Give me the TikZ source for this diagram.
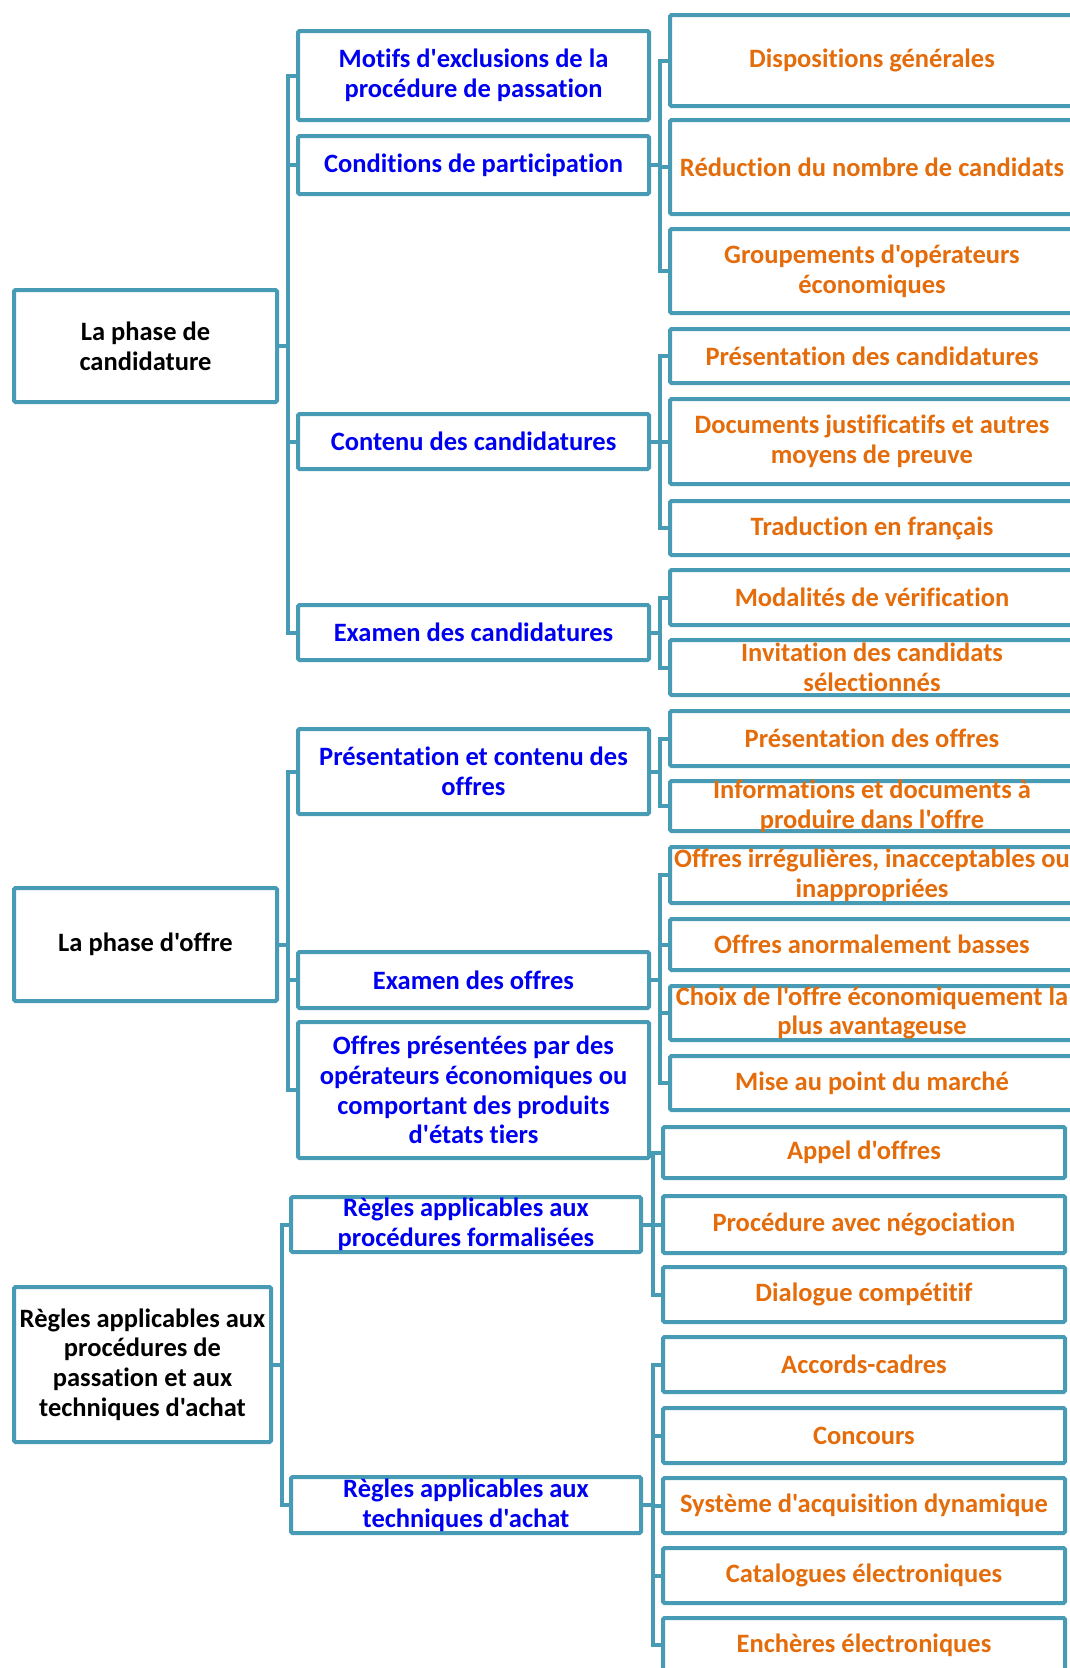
\documentclass[tikz,border=0pt]{standalone}
\usepackage{fontspec}
\setmainfont{Carlito}[Ligatures={TeXOff,NoCommon}]
\definecolor{teal}{RGB}{72,155,180}
\definecolor{tblue}{RGB}{0,0,240}
\definecolor{torange}{RGB}{228,108,10}
\tikzset{
  box/.style={draw=teal, line width=4pt, fill=white, rounded corners=1.5pt, inner sep=0pt},
  conn/.style={draw=teal, line width=4pt, line join=miter},
  lblA/.style={align=center, text=black, inner sep=0pt, font=\fontsize{26.5}{29.6}\selectfont\bfseries},
  lblB/.style={align=center, text=tblue, inner sep=0pt, font=\fontsize{26.5}{29.6}\selectfont\bfseries},
  lblC/.style={align=center, text=torange, inner sep=0pt, font=\fontsize{26.5}{29.6}\selectfont\bfseries}
}
\newcommand{\bx}[7]{%
  \node[box, minimum width={#3-#1}, minimum height={#4-#2}] (#5) at ({(#1+#3)/2},{(#2+#4)/2}) {};
  \node[#6] at (#5.center) {#7};}
\begin{document}
\begin{tikzpicture}[x=1pt,y=-1pt]
\clip (0,0) rectangle (1070,1668);
\fill[white] (0,0) rectangle (1070,1668);
% ---- level 1
\bx{14}{290}{277}{402}{A1}{lblA}{La phase de\\candidature}
\bx{14}{888}{277}{1001}{A2}{lblA}{La phase d'offre}
\bx{14}{1287}{271}{1442}{A3}{lblA}{Règles applicables aux\\procédures de\\passation et aux\\techniques d'achat}
% ---- level 2
\bx{298}{31}{649}{120}{B1}{lblB}{Motifs d'exclusions de la\\procédure de passation}
\bx{298}{136}{649}{194}{B2}{lblB}{Conditions de participation}
\bx{298}{414}{649}{469}{B3}{lblB}{Contenu des candidatures}
\bx{298}{605}{649}{660}{B4}{lblB}{Examen des candidatures}
\bx{298}{729}{649}{814}{B5}{lblB}{Présentation et contenu des\\offres}
\bx{298}{952}{649}{1008}{B6}{lblB}{Examen des offres}
\bx{298}{1022}{649}{1158}{B7}{lblB}{Offres présentées par des\\opérateurs économiques ou\\comportant des produits\\d'états tiers}
\bx{291}{1197}{641}{1252}{B8}{lblB}{Règles applicables aux\\procédures formalisées}
\bx{291}{1477}{641}{1533}{B9}{lblB}{Règles applicables aux\\techniques d'achat}
% ---- level 3
\bx{670}{15}{1074}{106}{C1}{lblC}{Dispositions générales}
\bx{670}{120}{1074}{214}{C2}{lblC}{Réduction du nombre de candidats}
\bx{670}{229}{1074}{313}{C3}{lblC}{Groupements d'opérateurs\\économiques}
\bx{670}{329}{1074}{383}{C4}{lblC}{Présentation des candidatures}
\bx{670}{399}{1074}{484}{C5}{lblC}{Documents justificatifs et autres\\moyens de preuve}
\bx{670}{501}{1074}{555}{C6}{lblC}{Traduction en français}
\bx{670}{570}{1074}{625}{C7}{lblC}{Modalités de vérification}
\bx{670}{640}{1074}{695}{C8}{lblC}{Invitation des candidats\\sélectionnés}
\bx{670}{711}{1074}{766}{C9}{lblC}{Présentation des offres}
\bx{670}{781}{1074}{831}{C10}{lblC}{Informations et documents à\\produire dans l'offre}
\bx{670}{847}{1074}{903}{C11}{lblC}{Offres irrégulières, inacceptables ou\\inappropriées}
\bx{670}{919}{1074}{970}{C12}{lblC}{Offres anormalement basses}
\bx{670}{986}{1074}{1040}{C13}{lblC}{Choix de l'offre économiquement la\\plus avantageuse}
\bx{670}{1056}{1074}{1110}{C14}{lblC}{Mise au point du marché}
\bx{663}{1127}{1065}{1178}{C15}{lblC}{Appel d'offres}
\bx{663}{1196}{1065}{1253}{C16}{lblC}{Procédure avec négociation}
\bx{663}{1267}{1065}{1322}{C17}{lblC}{Dialogue compétitif}
\bx{663}{1337}{1065}{1392}{C18}{lblC}{Accords-cadres}
\bx{663}{1408}{1065}{1463}{C19}{lblC}{Concours}
\bx{663}{1478}{1065}{1533}{C20}{lblC}{Système d'acquisition dynamique}
\bx{663}{1548}{1065}{1603}{C21}{lblC}{Catalogues électroniques}
\bx{663}{1618}{1065}{1672}{C22}{lblC}{Enchères électroniques}
% ---- connector columns
\coordinate (v1) at (288,0);
\coordinate (v2) at (282,0);
\coordinate (w1) at (660,0);
\coordinate (w2) at (653,0);
% A1
\draw[conn] (A1.east) -- (A1.east -| v1);
\draw[conn] (B1.west) -- (B1.west -| v1) -- (B4.west -| v1) -- (B4.west);
\draw[conn] (B2.west) -- (B2.west -| v1);
\draw[conn] (B3.west) -- (B3.west -| v1);
% A2
\draw[conn] (A2.east) -- (A2.east -| v1);
\draw[conn] (B5.west) -- (B5.west -| v1) -- (B7.west -| v1) -- (B7.west);
\draw[conn] (B6.west) -- (B6.west -| v1);
% A3
\draw[conn] (A3.east) -- (A3.east -| v2);
\draw[conn] (B8.west) -- (B8.west -| v2) -- (B9.west -| v2) -- (B9.west);
% B2
\draw[conn] (B2.east) -- (B2.east -| w1);
\draw[conn] (C1.west) -- (C1.west -| w1) -- (C3.west -| w1) -- (C3.west);
\draw[conn] (C2.west) -- (C2.west -| w1);
% B3
\draw[conn] (B3.east) -- (B3.east -| w1);
\draw[conn] (C4.west) -- (C4.west -| w1) -- (C6.west -| w1) -- (C6.west);
\draw[conn] (C5.west) -- (C5.west -| w1);
% B4
\draw[conn] (B4.east) -- (B4.east -| w1);
\draw[conn] (C7.west) -- (C7.west -| w1) -- (C8.west -| w1) -- (C8.west);
% B5
\draw[conn] (B5.east) -- (B5.east -| w1);
\draw[conn] (C9.west) -- (C9.west -| w1) -- (C10.west -| w1) -- (C10.west);
% B6
\draw[conn] (B6.east) -- (B6.east -| w1);
\draw[conn] (C11.west) -- (C11.west -| w1) -- (C14.west -| w1) -- (C14.west);
\draw[conn] (C12.west) -- (C12.west -| w1);
\draw[conn] (C13.west) -- (C13.west -| w1);
% B8
\draw[conn] (B8.east) -- (B8.east -| w2);
\draw[conn] (C15.west) -- (C15.west -| w2) -- (C17.west -| w2) -- (C17.west);
\draw[conn] (C16.west) -- (C16.west -| w2);
% B9
\draw[conn] (B9.east) -- (B9.east -| w2);
\draw[conn] (C18.west) -- (C18.west -| w2) -- (C22.west -| w2) -- (C22.west);
\draw[conn] (C19.west) -- (C19.west -| w2);
\draw[conn] (C20.west) -- (C20.west -| w2);
\draw[conn] (C21.west) -- (C21.west -| w2);
\end{tikzpicture}
\end{document}
